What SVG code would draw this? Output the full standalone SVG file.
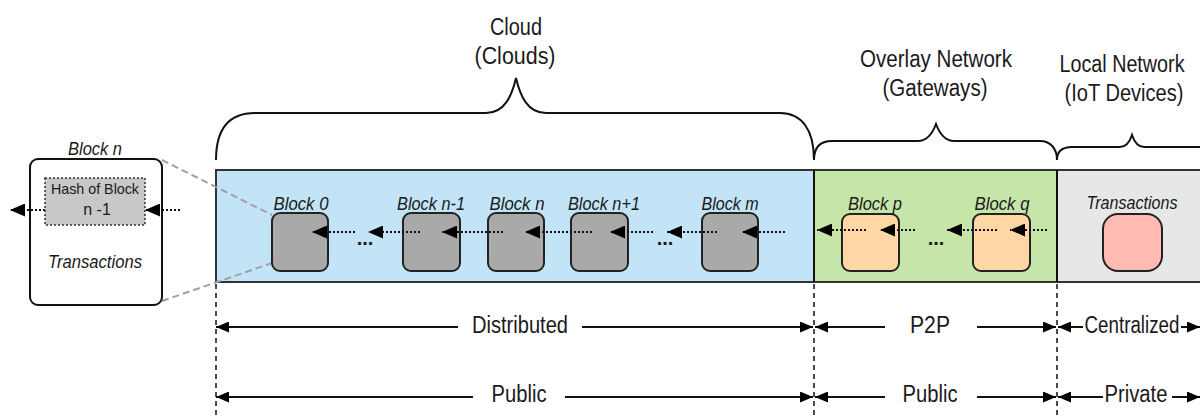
<svg xmlns="http://www.w3.org/2000/svg" width="1200" height="418" viewBox="0 0 1200 418">
<defs>
<style>
text{font-family:"Liberation Sans",Arial,sans-serif;fill:#1a1a1a}
.lbl{font-size:23px;text-anchor:middle}
.it{font-size:18px;font-style:italic;text-anchor:middle}
.dots{font-size:20px;font-weight:bold;text-anchor:middle}
.blk{fill:#a9a9a9;stroke:#222;stroke-width:2}
.ora{fill:#fed7a5;stroke:#222;stroke-width:2}
.chain{stroke:#111;stroke-width:2;stroke-dasharray:2 2;fill:none;marker-end:url(#head)}
.dim{stroke:#111;stroke-width:2;fill:none}
.vd{stroke:#111;stroke-width:1.5;stroke-dasharray:5 4}
.gd{stroke:#a0a0a0;stroke-width:2;stroke-dasharray:7 4}
.brace{fill:none;stroke:#111;stroke-width:2}
</style>
<marker id="head" markerUnits="userSpaceOnUse" markerWidth="15" markerHeight="13" refX="15" refY="6.5" orient="auto"><path d="M0,0 L15,6.5 L0,13 z" fill="#000"/></marker>
<marker id="dh" markerUnits="userSpaceOnUse" markerWidth="13" markerHeight="11" refX="13" refY="5.5" orient="auto"><path d="M0,0 L13,5.5 L0,11 z" fill="#000"/></marker>
</defs>

<g id="band">
<rect x="216" y="170" width="598" height="112" fill="#c2e4f6"/>
<rect x="814" y="170" width="243" height="112" fill="#c6e6a9"/>
<rect x="1057" y="170" width="145" height="112" fill="#e7e7e7"/>
<path d="M1202,170 H216 V282 H1202" fill="none" stroke="#333" stroke-width="2"/>
<line x1="814" y1="170" x2="814" y2="282" stroke="#111" stroke-width="2"/>
<line x1="1057" y1="170" x2="1057" y2="282" stroke="#111" stroke-width="2"/>
</g>

<g id="braces">
<path class="brace" d="M216,160 C216,130 228,113 255,113 L486,113 C505,113 512,95 516,78 C520,95 527,113 546,113 L780,113 C802,113 814,130 814,160"/>
<path class="brace" d="M814,160 C814,148 820,141 832,141 L918,141 C928,141 933,132 936,124 C939,132 944,141 954,141 L1040,141 C1050,141 1057,148 1057,160"/>
<path class="brace" d="M1057,160 C1057,152 1062,147 1072,147 L1120,147 C1127,147 1130,141 1132,135 C1134,141 1137,147 1144,147 L1202,147"/>
<text class="lbl" x="516" y="35" textLength="52" lengthAdjust="spacingAndGlyphs">Cloud</text>
<text class="lbl" x="515" y="64" textLength="81" lengthAdjust="spacingAndGlyphs">(Clouds)</text>
<text class="lbl" x="936" y="67" textLength="152" lengthAdjust="spacingAndGlyphs">Overlay Network</text>
<text class="lbl" x="935" y="96" textLength="105" lengthAdjust="spacingAndGlyphs">(Gateways)</text>
<text class="lbl" x="1122" y="72" font-size="21" textLength="125" lengthAdjust="spacingAndGlyphs">Local Network</text>
<text class="lbl" x="1124" y="101" textLength="119" lengthAdjust="spacingAndGlyphs">(IoT Devices)</text>
</g>

<g id="zoom-lines">
<line class="gd" x1="162" y1="160" x2="272" y2="215"/>
<line class="gd" x1="162" y1="301" x2="272" y2="263"/>
</g>

<g id="block-n-detail">
<rect x="30" y="159" width="132" height="146" rx="8" fill="#fff" stroke="#111" stroke-width="2"/>
<text class="it" x="95" y="155" font-size="17" textLength="54" lengthAdjust="spacingAndGlyphs">Block n</text>
<rect x="45" y="178" width="100" height="47" fill="#c8c8c8" stroke="#333" stroke-width="1.5" stroke-dasharray="2 2"/>
<text x="95" y="194" font-size="15" text-anchor="middle" textLength="88" lengthAdjust="spacingAndGlyphs">Hash of Block</text>
<text x="97" y="215" font-size="16" text-anchor="middle">n -1</text>
<text class="it" x="95" y="268" font-size="17" textLength="94" lengthAdjust="spacingAndGlyphs">Transactions</text>
</g>

<g id="block-0"><rect class="blk" x="272" y="213" width="56" height="58" rx="8"/><text class="it" x="301" y="210" textLength="55" lengthAdjust="spacingAndGlyphs">Block 0</text></g>
<g id="block-n-1"><rect class="blk" x="403" y="213" width="57" height="58" rx="8"/><text class="it" x="431" y="210" textLength="68" lengthAdjust="spacingAndGlyphs">Block n-1</text></g>
<g id="block-n"><rect class="blk" x="488" y="213" width="56" height="58" rx="8"/><text class="it" x="517" y="210" textLength="55" lengthAdjust="spacingAndGlyphs">Block n</text></g>
<g id="block-n1"><rect class="blk" x="571" y="213" width="57" height="58" rx="8"/><text class="it" x="604" y="210" textLength="72" lengthAdjust="spacingAndGlyphs">Block n+1</text></g>
<g id="block-m"><rect class="blk" x="702" y="213" width="56" height="58" rx="8"/><text class="it" x="730" y="210" textLength="57" lengthAdjust="spacingAndGlyphs">Block m</text></g>
<g id="block-p"><rect class="ora" x="842" y="214" width="57" height="57" rx="8"/><text class="it" x="875" y="210" textLength="54" lengthAdjust="spacingAndGlyphs">Block p</text></g>
<g id="block-q"><rect class="ora" x="973" y="214" width="57" height="57" rx="8"/><text class="it" x="1002" y="210" textLength="55" lengthAdjust="spacingAndGlyphs">Block q</text></g>
<g id="transactions"><rect x="1103" y="214" width="59" height="57" rx="15" fill="#ffbab3" stroke="#222" stroke-width="2"/><text class="it" x="1132" y="209" font-size="17" textLength="91" lengthAdjust="spacingAndGlyphs">Transactions</text></g>

<g id="connectors">
<line class="chain" x1="180" y1="210" x2="145" y2="210"/>
<line class="chain" x1="45" y1="210" x2="10" y2="210"/>
<line class="chain" x1="355" y1="232" x2="312" y2="232"/>
<line class="chain" x1="420" y1="232" x2="368" y2="232"/>
<line class="chain" x1="503" y1="232" x2="442" y2="232"/>
<line class="chain" x1="592" y1="232" x2="525" y2="232"/>
<line class="chain" x1="653" y1="232" x2="610" y2="232"/>
<line class="chain" x1="717" y1="232" x2="667" y2="232"/>
<line class="chain" x1="785" y1="232" x2="742" y2="232"/>
<line class="chain" x1="866" y1="230" x2="817" y2="230"/>
<line class="chain" x1="915" y1="230" x2="880" y2="230"/>
<line class="chain" x1="997" y1="230" x2="947" y2="230"/>
<line class="chain" x1="1047" y1="230" x2="1010" y2="230"/>
<text class="dots" x="365" y="245">...</text>
<text class="dots" x="665" y="245">...</text>
<text class="dots" x="936" y="245">...</text>

<line class="vd" x1="216" y1="284" x2="216" y2="418"/>
<line class="vd" x1="814" y1="284" x2="814" y2="418"/>
<line class="vd" x1="1057" y1="284" x2="1057" y2="418"/>

<line class="dim" x1="458" y1="327" x2="216" y2="327" marker-end="url(#dh)"/>
<line class="dim" x1="582" y1="327" x2="813" y2="327" marker-end="url(#dh)"/>
<line class="dim" x1="885" y1="327" x2="815" y2="327" marker-end="url(#dh)"/>
<line class="dim" x1="977" y1="327" x2="1056" y2="327" marker-end="url(#dh)"/>
<line class="dim" x1="1083" y1="327" x2="1058" y2="327" marker-end="url(#dh)"/>
<line class="dim" x1="1181" y1="327" x2="1200" y2="327" marker-end="url(#dh)"/>

<line class="dim" x1="473" y1="397" x2="216" y2="397" marker-end="url(#dh)"/>
<line class="dim" x1="565" y1="397" x2="813" y2="397" marker-end="url(#dh)"/>
<line class="dim" x1="885" y1="397" x2="815" y2="397" marker-end="url(#dh)"/>
<line class="dim" x1="977" y1="397" x2="1056" y2="397" marker-end="url(#dh)"/>
<line class="dim" x1="1103" y1="397" x2="1058" y2="397" marker-end="url(#dh)"/>
<line class="dim" x1="1172" y1="397" x2="1200" y2="397" marker-end="url(#dh)"/>
</g>

<g id="dim-labels">
<text class="lbl" x="520" y="333" textLength="96" lengthAdjust="spacingAndGlyphs">Distributed</text>
<text class="lbl" x="930" y="333" textLength="40" lengthAdjust="spacingAndGlyphs">P2P</text>
<text class="lbl" x="1132" y="333" textLength="95" lengthAdjust="spacingAndGlyphs">Centralized</text>
<text class="lbl" x="519" y="402" textLength="55" lengthAdjust="spacingAndGlyphs">Public</text>
<text class="lbl" x="930" y="402" textLength="55" lengthAdjust="spacingAndGlyphs">Public</text>
<text class="lbl" x="1136" y="402" textLength="63" lengthAdjust="spacingAndGlyphs">Private</text>
</g>
</svg>
